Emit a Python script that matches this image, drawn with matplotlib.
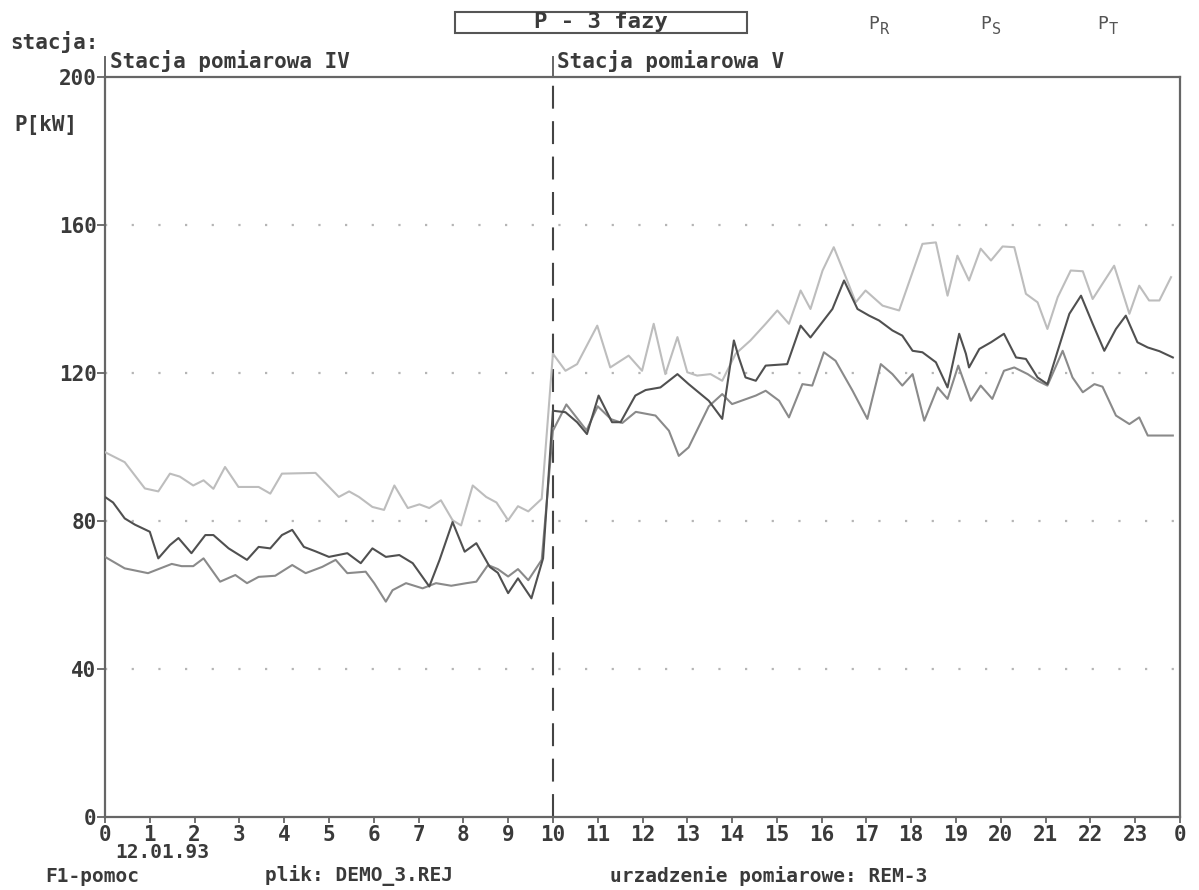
import matplotlib
matplotlib.use("Agg")
import matplotlib.pyplot as plt
from matplotlib.patches import Rectangle

# ---- data (hours, kW) ----
t_R = [0.0, 0.44, 0.89, 1.19, 1.45, 1.67, 1.97, 2.2, 2.42, 2.68, 2.98, 3.43, 3.69, 3.95, 4.70,
       5.22, 5.45, 5.67, 5.97, 6.23, 6.46, 6.76, 7.02, 7.24, 7.50, 7.76, 7.95, 8.21, 8.51, 8.74,
       9.0, 9.22, 9.45, 9.75,
       10.0, 10.28, 10.54, 10.99, 11.28, 11.69, 11.99, 12.25, 12.51, 12.78, 13.0, 13.22, 13.52,
       13.78, 14.08, 14.41, 14.75, 15.01, 15.27, 15.53, 15.75, 16.02, 16.27, 16.54, 16.76, 16.98,
       17.36, 17.73, 18.25, 18.55, 18.81, 19.03, 19.29, 19.55, 19.78, 20.04, 20.30, 20.56, 20.82,
       21.04, 21.27, 21.56, 21.83, 22.05, 22.53, 22.87, 23.09, 23.31, 23.54, 23.80]
p_R = [98.6, 95.9, 88.8, 88.0, 92.8, 92.0, 89.6, 91.0, 88.7, 94.6, 89.2, 89.2, 87.4, 92.8, 93.0,
       86.5, 88.0, 86.5, 83.8, 83.0, 89.6, 83.5, 84.5, 83.5, 85.6, 80.2, 78.8, 89.6, 86.5, 85.0,
       80.2, 84.0, 82.6, 86.0,
       125.2, 120.6, 122.4, 132.8, 121.5, 124.7, 120.6, 133.3, 119.7, 129.7, 120.2, 119.3, 119.7,
       117.9, 125.2, 128.8, 133.3, 136.9, 133.3, 142.3, 137.3, 147.7, 154.0, 145.9, 139.1, 142.3,
       138.2, 136.9, 154.9, 155.3, 140.9, 151.7, 145.0, 153.6, 150.4, 154.2, 154.0, 141.4, 139.1,
       131.9, 140.5, 147.7, 147.5, 140.0, 149.0, 136.0, 143.6, 139.6, 139.6, 145.9]

t_S = [0.0, 0.44, 0.96, 1.49, 1.71, 1.97, 2.2, 2.57, 2.91, 3.17, 3.43, 3.80, 4.18, 4.48, 4.85,
       5.15, 5.41, 5.82, 6.01, 6.27, 6.42, 6.72, 7.09, 7.39, 7.73, 8.07, 8.29, 8.55, 8.77, 9.0,
       9.22, 9.45, 9.75,
       10.0, 10.3, 10.75, 11.0, 11.3, 11.55, 11.85, 12.29, 12.59, 12.81, 13.03, 13.48, 13.78,
       14.0, 14.53, 14.75, 15.05, 15.27, 15.57, 15.79, 16.05, 16.31, 16.69, 17.02, 17.32, 17.58,
       17.80, 18.03, 18.29, 18.59, 18.81, 19.05, 19.33, 19.55, 19.81, 20.07, 20.30, 20.60, 20.82,
       21.04, 21.38, 21.60, 21.83, 22.09, 22.27, 22.57, 22.87, 23.09, 23.28, 23.84]
p_S = [70.3, 67.2, 65.9, 68.4, 67.8, 67.8, 69.9, 63.6, 65.4, 63.2, 64.9, 65.2, 68.1, 65.9, 67.6,
       69.5, 65.9, 66.3, 63.2, 58.2, 61.3, 63.2, 61.8, 63.2, 62.5, 63.2, 63.6, 68.1, 67.0, 65.0,
       67.0, 64.0, 69.5,
       104.4, 111.5, 104.5, 111.0, 107.5, 106.5, 109.5, 108.5, 104.4, 97.6, 99.9, 111.0, 114.3,
       111.6, 113.9, 115.2, 112.5, 108.0, 117.0, 116.6, 125.6, 123.3, 115.2, 107.6, 122.4, 119.7,
       116.6, 119.7, 107.1, 116.1, 113.0, 122.0, 112.5, 116.6, 113.0, 120.6, 121.5, 119.7, 117.9,
       116.6, 126.0, 118.8, 114.8, 117.0, 116.3, 108.5, 106.2, 108.0, 103.1, 103.1]

t_T = [0.0, 0.18, 0.44, 0.67, 1.0, 1.19, 1.45, 1.64, 1.93, 2.24, 2.42, 2.76, 3.17, 3.43, 3.69,
       3.95, 4.18, 4.44, 4.70, 5.0, 5.41, 5.71, 5.97, 6.27, 6.57, 6.87, 7.24, 7.47, 7.76, 8.03,
       8.29, 8.59, 8.77, 9.0, 9.22, 9.52, 9.78,
       10.0, 10.28, 10.54, 10.76, 11.02, 11.32, 11.51, 11.84, 12.07, 12.40, 12.78, 13.03, 13.48,
       13.78, 14.04, 14.15, 14.30, 14.53, 14.75, 15.23, 15.53, 15.75, 16.24, 16.50, 16.80, 17.06,
       17.28, 17.58, 17.80, 18.03, 18.25, 18.55, 18.81, 19.07, 19.22, 19.29, 19.52, 19.78, 20.07,
       20.34, 20.56, 20.82, 21.04, 21.27, 21.53, 21.79, 22.05, 22.31, 22.57, 22.79, 23.05, 23.28,
       23.54, 23.84]
p_T = [86.5, 85.0, 80.7, 79.0, 77.1, 69.9, 73.5, 75.4, 71.3, 76.2, 76.2, 72.6, 69.5, 73.0, 72.6,
       76.2, 77.6, 73.0, 71.8, 70.3, 71.3, 68.6, 72.6, 70.3, 70.8, 68.6, 62.3, 69.5, 79.7, 71.7,
       74.0, 67.6, 66.0, 60.5, 64.5, 59.1, 69.9,
       109.8, 109.4, 106.7, 103.5, 113.9, 106.7, 106.7, 113.9, 115.4, 116.1, 119.7, 117.0, 112.5,
       107.6, 128.8, 124.2, 118.8, 117.9, 122.0, 122.4, 132.8, 129.6, 137.3, 145.0, 137.3, 135.5,
       134.2, 131.5, 130.1, 126.0, 125.6, 122.9, 116.1, 130.6, 125.2, 121.5, 126.5, 128.3, 130.6,
       124.2, 123.8, 118.8, 117.0, 126.0, 136.0, 140.9, 133.3, 126.0, 131.9, 135.5, 128.3, 126.9,
       125.9, 124.2]

y_ticks = [0, 40, 80, 120, 160, 200]
grid_levels = [40, 80, 120, 160]
x_ticks = list(range(25))
x_labels = [str(h) for h in range(24)] + ["0"]
station_split = 10

W, H = 1199, 890
FONT = "DejaVu Sans Mono"
TXT = "#3a3a3a"
FS = 15

fig = plt.figure(figsize=(W / 100, H / 100), dpi=100)
fig.patch.set_facecolor("white")

x0, x1 = 105, 1180
y_top, y_bot = 77, 817
ax = fig.add_axes([x0 / W, 1 - y_bot / H, (x1 - x0) / W, (y_bot - y_top) / H])
ax.set_xlim(0, 24)
ax.set_ylim(0, 200)

for s in ax.spines.values():
    s.set_color("#666666")
    s.set_linewidth(1.6)

for g in grid_levels:
    ax.axhline(g, color="#b5b5b5", lw=1.6, ls=(0, (1, 11)), zorder=1)

ax.axvline(station_split, color="#444444", lw=1.5, ls=(0, (11, 6)), zorder=2)

ax.plot(t_R, p_R, color="#bdbdbd", lw=1.5, zorder=3)
ax.plot(t_S, p_S, color="#8a8a8a", lw=1.5, zorder=4)
ax.plot(t_T, p_T, color="#505050", lw=1.5, zorder=5)

# small markers above the frame at the station starts
for xs in (0, station_split):
    ax.plot([xs, xs], [200, 205.5], color="#666666", lw=1.4, clip_on=False)

ax.set_yticks(y_ticks)
ax.set_yticklabels([str(v) for v in y_ticks], fontfamily=FONT, fontweight="bold",
                   fontsize=FS, color=TXT)
ax.set_xticks(x_ticks)
ax.set_xticklabels(x_labels, fontfamily=FONT, fontweight="bold", fontsize=FS, color=TXT)
ax.tick_params(axis="y", direction="out", length=6, width=1.3, color="#666666", pad=0)
ax.tick_params(axis="x", direction="out", length=4, width=1.3, color="#666666", pad=2)


def ftext(x, y, s, ha="left", size=FS, **kw):
    fig.text(x / W, 1 - y / H, s, ha=ha, va="center", fontfamily=FONT,
             fontweight="bold", fontsize=size, color=TXT, **kw)


ftext(10, 42, "stacja:")
ftext(110, 61, "Stacja pomiarowa IV")
ftext(557, 61, "Stacja pomiarowa V")
ftext(14, 125, "P[kW]")
ftext(115, 853, "12.01.93", size=14)
ftext(45, 876, "F1-pomoc", size=14)
ftext(265, 876, "plik: DEMO_3.REJ", size=14)
ftext(610, 876, "urzadzenie pomiarowe: REM-3", size=14)

# title box
fig.patches.append(Rectangle((455 / W, 1 - 33 / H), (747 - 455) / W, 21 / H,
                             transform=fig.transFigure, fill=False,
                             edgecolor="#555555", lw=1.5))
ftext(601, 22, "P - 3 fazy", ha="center", size=16)

# phase labels
for xp, sub in ((868, "R"), (980, "S"), (1097, "T")):
    fig.text(xp / W, 1 - 24 / H, "P", ha="left", va="center", fontfamily=FONT,
             fontsize=13, color="#555555")
    fig.text((xp + 12) / W, 1 - 30 / H, sub, ha="left", va="center", fontfamily=FONT,
             fontsize=11, color="#555555")

fig.savefig("out.png", dpi=100, facecolor="white")
